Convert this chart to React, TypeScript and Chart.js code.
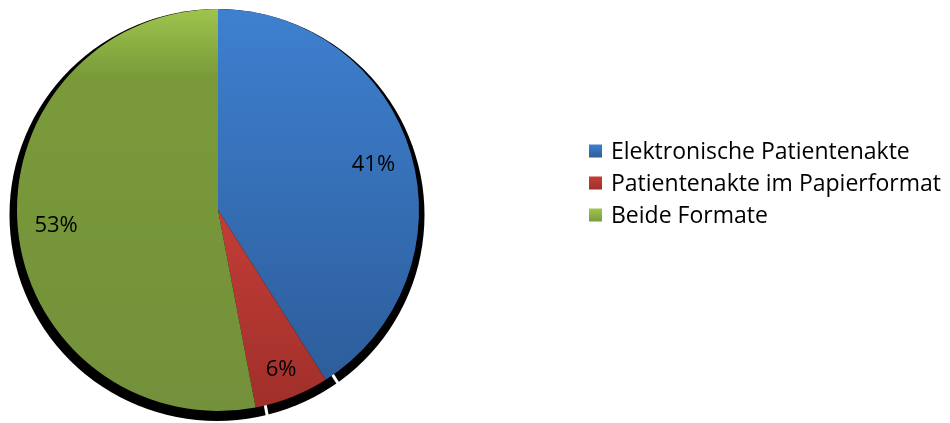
import React, { useEffect, useRef } from "react";
import { Chart, registerables } from "chart.js";

Chart.register(...registerables);

const categories = [
  "Elektronische Patientenakte",
  "Patientenakte im Papierformat",
  "Beide Formate",
];
const values = [41, 6, 53];
const valueLabels = ["41%", "6%", "53%"];

const FONT_FAMILY = "'Open Sans', Lato, sans-serif";
const LABEL_SIZE = 22;
const LEGEND_SIZE = 23;

// gradient stops per slice: [offset over pie height, colour]
const sliceStops: [number, string][][] = [
  [
    [0, "#3E80D0"],
    [0.92, "#2D5D9B"],
    [1, "#2D5D9B"],
  ],
  [
    [0, "#C63E38"],
    [0.5, "#C33D37"],
    [1, "#A02F2A"],
  ],
  [
    [0, "#9EC44D"],
    [0.17, "#7A9A3A"],
    [1, "#73913A"],
  ],
];
const legendStops: [string, string][] = [
  ["#3E80D0", "#2D5D9B"],
  ["#C63E38", "#A02F2A"],
  ["#A0C64F", "#7A9A3A"],
];

const shadowPlugin = {
  id: "pieShadow",
  beforeDatasetsDraw(chart: any) {
    const meta = chart.getDatasetMeta(0);
    if (!meta || !meta.data.length) return;
    const ctx = chart.ctx;
    const arc0 = meta.data[0] as any;
    const cx = arc0.x;
    const cy = arc0.y;
    const r = arc0.outerRadius;
    ctx.save();
    ctx.fillStyle = "#000";
    ctx.beginPath();
    ctx.ellipse(cx - 1, cy + 5, r + 6.5, r + 5, 0, 0, Math.PI * 2);
    ctx.fill();
    // white gaps between shadow slices
    ctx.strokeStyle = "#fff";
    ctx.lineWidth = 3;
    meta.data.forEach((a: any, i: number) => {
      if (i === meta.data.length - 1) return;
      const ang = a.endAngle;
      const ox = cx + 10;
      const oy = cy;
      ctx.beginPath();
      ctx.moveTo(ox + Math.cos(ang) * (r - 6), oy + Math.sin(ang) * (r - 6));
      ctx.lineTo(ox + Math.cos(ang) * (r + 25), oy + Math.sin(ang) * (r + 25));
      ctx.stroke();
    });
    ctx.restore();
  },
};

const labelPlugin = {
  id: "sliceLabels",
  afterDatasetsDraw(chart: any) {
    const meta = chart.getDatasetMeta(0);
    const ctx = chart.ctx;
    ctx.save();
    ctx.font = `${LABEL_SIZE}px ${FONT_FAMILY}`;
    ctx.fillStyle = "#000";
    ctx.textAlign = "center";
    ctx.textBaseline = "middle";
    meta.data.forEach((a: any, i: number) => {
      const mid = (a.startAngle + a.endAngle) / 2;
      const dx = Math.cos(mid);
      const dy = Math.sin(mid);
      const w = ctx.measureText(valueLabels[i]).width;
      const h = 17;
      const extent = (w / 2) * Math.abs(dx) + (h / 2) * Math.abs(dy);
      const d = a.outerRadius - 16 - extent;
      ctx.fillText(valueLabels[i], a.x + dx * d, a.y + dy * d);
    });
    ctx.restore();
  },
};

const legendPlugin = {
  id: "sideLegend",
  afterDraw(chart: any) {
    const ctx = chart.ctx;
    ctx.save();
    ctx.font = `${LEGEND_SIZE}px ${FONT_FAMILY}`;
    ctx.textBaseline = "middle";
    ctx.textAlign = "left";
    const boxX = 589;
    const textX = 611;
    const firstY = 151;
    const step = 32;
    const box = 13;
    categories.forEach((c, i) => {
      const y = firstY + i * step;
      const g = ctx.createLinearGradient(0, y - box / 2, 0, y + box / 2);
      g.addColorStop(0, legendStops[i][0]);
      g.addColorStop(1, legendStops[i][1]);
      ctx.fillStyle = g;
      ctx.fillRect(boxX, y - box / 2, box, box);
      ctx.fillStyle = "#000";
      ctx.fillText(c, textX, y + 1);
    });
    ctx.restore();
  },
};

export default function App() {
  const ref = useRef<HTMLCanvasElement | null>(null);
  useEffect(() => {
    if (!ref.current) return;
    const chart = new Chart(ref.current, {
      type: "pie",
      data: {
        labels: categories,
        datasets: [
          {
            data: values,
            borderWidth: 0,
            backgroundColor: (c: any) => {
              const ch = c.chart;
              const area = ch.chartArea;
              const stops = sliceStops[c.dataIndex] || sliceStops[0];
              if (!area) return stops[0][1];
              const g = ch.ctx.createLinearGradient(0, area.top, 0, area.bottom);
              stops.forEach(([o, col]) => g.addColorStop(o, col));
              return g;
            },
          },
        ],
      },
      options: {
        responsive: false,
        animation: false,
        layout: { padding: { left: 17, top: 9, right: 531, bottom: 12 } },
        plugins: {
          legend: { display: false },
          tooltip: { enabled: false },
        },
      },
      plugins: [shadowPlugin, labelPlugin, legendPlugin],
    });
    return () => chart.destroy();
  }, []);
  return (
    <div style={{ position: "absolute", left: 0, top: 0, width: 950, height: 423, background: "#fff" }}>
      <canvas ref={ref} width={950} height={423} style={{ display: "block" }} />
    </div>
  );
}
